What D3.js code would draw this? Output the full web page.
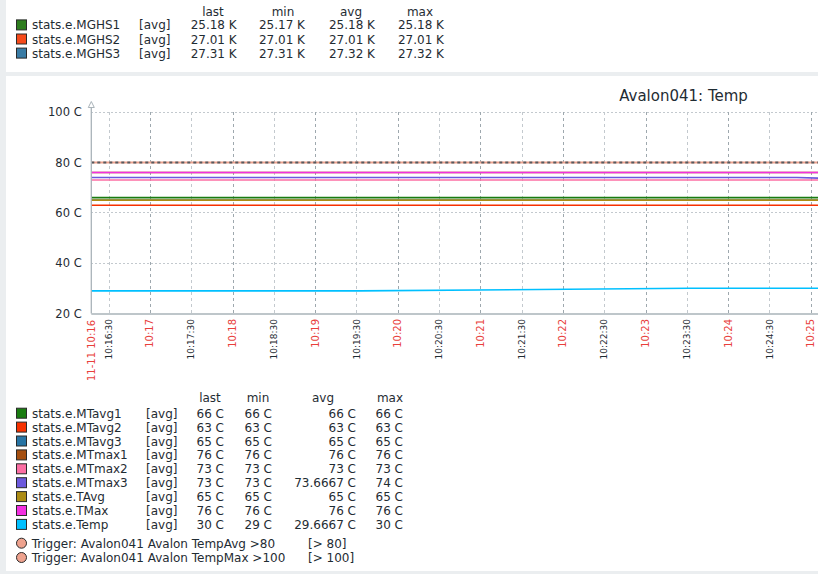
<!DOCTYPE html>
<html>
<head>
<meta charset="utf-8">
<script src="https://cdn.jsdelivr.net/npm/d3@7"></script>
<style>
html,body{margin:0;padding:0;background:#ebeef0;overflow:hidden;}
svg{display:block;font-family:"DejaVu Sans",sans-serif;}
</style>
</head>
<body>
<svg id="c" width="818" height="574"></svg>
<script>
// ---------- DATA ----------
const topNames = ["stats.e.MGHS1", "stats.e.MGHS2", "stats.e.MGHS3"];
const topColors = ["#2e7d1e", "#f64a1a", "#3a7ca5"];
const topLast = ["25.18 K", "27.01 K", "27.31 K"];
const topMin  = ["25.17 K", "27.01 K", "27.31 K"];
const topAvg  = ["25.18 K", "27.01 K", "27.32 K"];
const topMax  = ["25.18 K", "27.01 K", "27.32 K"];

const seriesNames = ["stats.e.MTavg1","stats.e.MTavg2","stats.e.MTavg3","stats.e.MTmax1","stats.e.MTmax2","stats.e.MTmax3","stats.e.TAvg","stats.e.TMax","stats.e.Temp"];
const seriesColors = ["#1a7c11","#f63100","#2774a4","#a54f10","#fc6ea3","#6c59dc","#ac8c14","#f230e0","#00c0ff"];
const legendLast = ["66 C","63 C","65 C","76 C","73 C","73 C","65 C","76 C","30 C"];
const legendMin  = ["66 C","63 C","65 C","76 C","73 C","73 C","65 C","76 C","29 C"];
const legendAvg  = ["66 C","63 C","65 C","76 C","73 C","73.6667 C","65 C","76 C","29.6667 C"];
const legendMax  = ["66 C","63 C","65 C","76 C","73 C","74 C","65 C","76 C","30 C"];

// time points (HH:MM:SS on 2023-11-11) and values per series
const flatTimes = ["10:16:17", "10:25:50"];
const MTavg1 = [66, 66];
const MTavg2 = [63, 63];
const MTavg3 = [65, 65];
const MTmax1 = [76, 76];
const MTmax2 = [73, 73];
const MTmax3Times = ["10:16:17", "10:24:50", "10:25:50"];
const MTmax3 = [74, 74, 73];
const TAvg = [65, 65];
const TMax = [76, 76];
const TempTimes = ["10:16:17", "10:19:32", "10:23:32", "10:25:50"];
const Temp = [29, 29, 30, 30];

const yTicks = [20, 40, 60, 80, 100];
const triggerNames = ["Trigger: Avalon041 Avalon TempAvg >80", "Trigger: Avalon041 Avalon TempMax >100"];
const triggerLabels = ["[> 80]", "[> 100]"];
const triggerValues = [80, 100];
const chartTitle = "Avalon041: Temp";
const startLabel = "11-11 10:16";

// ---------- DRAW ----------
const svg = d3.select("#c");
const txt = "#1f2c33";
const parseT = s => new Date("2023-11-11T" + s);

// panels
svg.append("rect").attr("x", 6).attr("y", 0).attr("width", 812).attr("height", 72).attr("fill", "#fff");
svg.append("rect").attr("x", 6).attr("y", 76).attr("width", 812).attr("height", 495).attr("fill", "#fff");

// top legend
const tl = svg.append("g").attr("font-size", 12).attr("fill", txt);
[["last",213],["min",283],["avg",351],["max",420]].forEach(([t,x]) =>
  tl.append("text").attr("x", x).attr("y", 16.4).attr("text-anchor", "middle").text(t));
topNames.forEach((n, i) => {
  const by = 29.4 + i * 14.1;
  tl.append("rect").attr("x", 16.5).attr("y", by - 9.5).attr("width", 10).attr("height", 10)
    .attr("fill", topColors[i]).attr("stroke", "#2a2a2a").attr("stroke-width", 1);
  tl.append("text").attr("x", 32).attr("y", by).text(n);
  tl.append("text").attr("x", 139).attr("y", by).text("[avg]");
  [[topLast,236.7],[topMin,305],[topAvg,375],[topMax,444]].forEach(([arr,x]) =>
    tl.append("text").attr("x", x).attr("y", by).attr("text-anchor", "end").text(arr[i]));
});

// scales
const x = d3.scaleTime().domain([parseT("10:16:17.4"), parseT("10:25:17.4")]).range([91.3, 834.7]);
const y = d3.scaleLinear().domain([20, 100]).range([313.5, 112]);
const plotL = 91.3, plotR = 818;

// title
svg.append("text").attr("x", 683.5).attr("y", 100.5).attr("text-anchor", "middle")
  .attr("font-size", 15).attr("fill", txt).text(chartTitle);

// horizontal grid
const g = svg.append("g");
yTicks.filter(v => v > 20).forEach(v => {
  g.append("line").attr("x1", plotL).attr("x2", plotR).attr("y1", y(v)).attr("y2", y(v))
    .attr("stroke", "#c3c9ce").attr("stroke-width", 1).attr("stroke-dasharray", "2,2")
    .attr("shape-rendering", "crispEdges");
});

// vertical grid and x labels
const ticks = x.ticks(d3.timeSecond.every(30)).filter(t => x(t) > plotL + 5 && x(t) < plotR);
ticks.forEach(t => {
  const major = t.getSeconds() === 0;
  const xp = Math.round(x(t)) + 0.5;
  g.append("line").attr("x1", xp).attr("x2", xp).attr("y1", y(100)).attr("y2", y(20))
    .attr("stroke", major ? "#9ea8ae" : "#c3c9ce").attr("stroke-width", 1)
    .attr("stroke-dasharray", "3,3");
  svg.append("text")
    .attr("transform", `translate(${x(t)},319) rotate(-90)`)
    .attr("text-anchor", "end").attr("dy", "0.35em")
    .attr("font-size", major ? 10 : 9)
    .attr("fill", major ? "#e8403c" : txt)
    .text(major ? d3.timeFormat("%H:%M")(t) : d3.timeFormat("%H:%M:%S")(t));
});
svg.append("text")
  .attr("transform", `translate(${plotL},320) rotate(-90)`)
  .attr("text-anchor", "end").attr("dy", "0.35em")
  .attr("font-size", 10).attr("fill", "#e8403c").text(startLabel);

// y labels
yTicks.forEach(v => {
  svg.append("text").attr("x", 81.7).attr("y", y(v)).attr("dy", "0.36em")
    .attr("text-anchor", "end").attr("font-size", 11.5).attr("fill", txt).text(v + " C");
});

// series lines
const seriesData = [
  [flatTimes, MTavg1], [flatTimes, MTavg2], [flatTimes, MTavg3], [flatTimes, MTmax1],
  [flatTimes, MTmax2], [MTmax3Times, MTmax3], [flatTimes, TAvg], [flatTimes, TMax], [TempTimes, Temp]
];
const line = d3.line().x(d => x(d[0])).y(d => y(d[1]));
const clip = svg.append("defs").append("clipPath").attr("id", "pc");
clip.append("rect").attr("x", plotL).attr("y", y(100)).attr("width", plotR - plotL).attr("height", y(20) - y(100));
const lg = svg.append("g").attr("clip-path", "url(#pc)");
seriesData.forEach(([ts, vs], i) => {
  const pts = ts.map((t, k) => [parseT(t), vs[k]]);
  lg.append("path").attr("d", line(pts)).attr("fill", "none")
    .attr("stroke", seriesColors[i]).attr("stroke-width", 1.6);
});

// trigger line (80)
const ty = y(triggerValues[0]);
svg.append("line").attr("x1", plotL).attr("x2", plotR).attr("y1", ty).attr("y2", ty)
  .attr("stroke", "#eea28e").attr("stroke-width", 2);
svg.append("line").attr("x1", plotL).attr("x2", plotR).attr("y1", ty).attr("y2", ty)
  .attr("stroke", "#555b60").attr("stroke-width", 2).attr("stroke-dasharray", "3,3");

// axes
svg.append("line").attr("x1", plotL).attr("x2", plotL).attr("y1", 104).attr("y2", y(20))
  .attr("stroke", "#a9b3b9").attr("stroke-width", 1.3);
svg.append("line").attr("x1", plotL).attr("x2", plotR).attr("y1", y(20) + 0.5).attr("y2", y(20) + 0.5)
  .attr("stroke", "#a9b3b9").attr("stroke-width", 1.3);
svg.append("path").attr("d", `M${plotL - 3},107.5 L${plotL},101.5 L${plotL + 3},107.5 Z`)
  .attr("fill", "#fff").attr("stroke", "#a9b3b9").attr("stroke-width", 1);

// bottom legend
const bl = svg.append("g").attr("font-size", 12).attr("fill", txt);
[["last",210],["min",258],["avg",323],["max",390]].forEach(([t,xx]) =>
  bl.append("text").attr("x", xx).attr("y", 402.4).attr("text-anchor", "middle").text(t));
seriesNames.forEach((n, i) => {
  const by = 417.7 + i * 13.9;
  bl.append("rect").attr("x", 16.5).attr("y", by - 9.5).attr("width", 10).attr("height", 10)
    .attr("fill", seriesColors[i]).attr("stroke", "#2a2a2a").attr("stroke-width", 1);
  bl.append("text").attr("x", 32).attr("y", by).text(n);
  bl.append("text").attr("x", 146).attr("y", by).text("[avg]");
  [[legendLast,224],[legendMin,272],[legendAvg,356],[legendMax,403]].forEach(([arr,xx]) =>
    bl.append("text").attr("x", xx).attr("y", by).attr("text-anchor", "end").text(arr[i]));
});
triggerNames.forEach((n, i) => {
  const by = 547.7 + i * 14.3;
  bl.append("circle").attr("cx", 21.5).attr("cy", by - 4.5).attr("r", 5)
    .attr("fill", "#eea28e").attr("stroke", "#2a2a2a").attr("stroke-width", 1);
  bl.append("text").attr("x", 31.7).attr("y", by).text(n);
  bl.append("text").attr("x", 308).attr("y", by).text(triggerLabels[i]);
});
</script>
</body>
</html>
